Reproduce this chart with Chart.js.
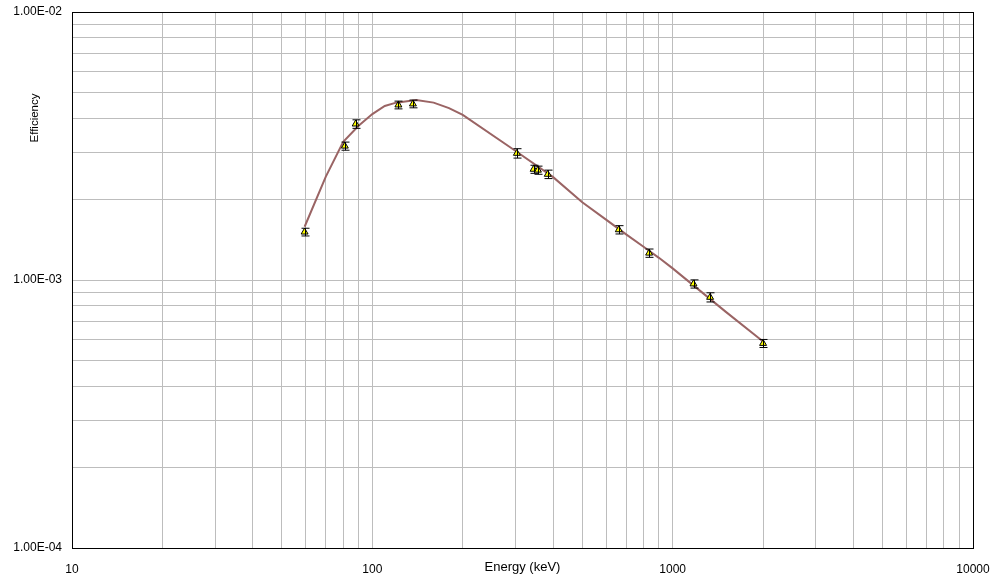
<!DOCTYPE html>
<html>
<head>
<meta charset="utf-8">
<script src="https://cdn.jsdelivr.net/npm/chart.js@4.4.1/dist/chart.umd.min.js"></script>
<style>
  html, body { margin: 0; padding: 0; background: #fff; }
  #wrap { width: 992px; height: 578px; }
</style>
</head>
<body>
<div id="wrap"><canvas id="effChart"></canvas></div>
<script>
// measured points (keV, efficiency, 1 sigma)
var energies = [59.5, 81.0, 88.0, 122.1, 136.5, 302.9, 344.3, 356.0, 383.8, 661.7, 834.8, 1173.2, 1332.5, 2000];
var effs = [1.51e-3, 3.16e-3, 3.82e-3, 4.50e-3, 4.54e-3, 2.97e-3, 2.59e-3, 2.57e-3, 2.48e-3, 1.54e-3, 1.26e-3, 9.67e-4, 8.62e-4, 5.80e-4];
var sigmas = [0.05e-3, 0.11e-3, 0.14e-3, 0.15e-3, 0.15e-3, 0.12e-3, 0.09e-3, 0.09e-3, 0.09e-3, 0.055e-3, 0.045e-3, 0.034e-3, 0.034e-3, 0.02e-3];

// fitted efficiency curve
var fitE = [59.5, 70, 80, 90, 100, 110, 120, 140, 160, 180, 200, 300, 400, 500, 600, 700, 800, 900, 1000, 1500, 2000];
var fitEff = [1.58e-3, 2.43e-3, 3.28e-3, 3.76e-3, 4.16e-3, 4.46e-3, 4.59e-3, 4.69e-3, 4.59e-3, 4.38e-3, 4.13e-3, 3.03e-3, 2.42e-3, 1.95e-3, 1.68e-3, 1.48e-3, 1.33e-3, 1.21e-3, 1.105e-3, 7.62e-4, 5.9e-4];

var xTickLabels = ['10', '100', '1000', '10000'];
var yTickLabels = ['1.00E-04', '1.00E-03', '1.00E-02'];

function logTicks(lo, hi) {
  var out = [];
  for (var d = lo; d < hi; d *= 10) {
    for (var m = 1; m < 10; m++) out.push({ value: m * d });
  }
  out.push({ value: hi });
  return out;
}

function pts(xs, ys) {
  return xs.map(function (x, i) { return { x: x, y: ys[i] }; });
}

var font = { family: 'Liberation Sans, Arial, sans-serif', size: 12 };

// error bars, axis titles and frame
var extras = {
  id: 'extras',
  afterDatasetsDraw: function (chart) {
    var ctx = chart.ctx, xs = chart.scales.x, ys = chart.scales.y;
    ctx.save();
    ctx.strokeStyle = '#000';
    ctx.lineWidth = 1;
    energies.forEach(function (e, i) {
      var px = Math.round(xs.getPixelForValue(e)) + 0.5;
      var top = ys.getPixelForValue(effs[i] + sigmas[i]);
      var bot = ys.getPixelForValue(effs[i] - sigmas[i]);
      ctx.beginPath();
      ctx.moveTo(px, top); ctx.lineTo(px, bot);
      ctx.moveTo(px - 4, top); ctx.lineTo(px + 4, top);
      ctx.moveTo(px - 4, bot); ctx.lineTo(px + 4, bot);
      ctx.stroke();
    });
    ctx.restore();
  },
  afterDraw: function (chart) {
    var ctx = chart.ctx, a = chart.chartArea;
    ctx.save();
    ctx.strokeStyle = '#000';
    ctx.lineWidth = 1;
    ctx.strokeRect(Math.round(a.left) + 0.5, Math.round(a.top) + 0.5, Math.round(a.right - a.left), Math.round(a.bottom - a.top));
    ctx.fillStyle = '#000';
    ctx.textAlign = 'center';
    ctx.textBaseline = 'middle';
    ctx.font = '13px "Liberation Sans", Arial, sans-serif';
    ctx.fillText('Energy (keV)', (a.left + a.right) / 2, 567);
    ctx.font = '11.5px "Liberation Sans", Arial, sans-serif';
    ctx.translate(35, 118);
    ctx.rotate(-Math.PI / 2);
    ctx.fillText('Efficiency', 0, 0);
    ctx.restore();
  }
};

new Chart(document.getElementById('effChart'), {
  type: 'scatter',
  data: {
    datasets: [
      {
        label: 'Measured',
        data: pts(energies, effs),
        pointStyle: 'triangle',
        pointRadius: 4,
        backgroundColor: '#ffff00',
        borderColor: '#000',
        borderWidth: 1,
        order: 0
      },
      {
        label: 'Fit',
        data: pts(fitE, fitEff),
        showLine: true,
        pointRadius: 0,
        borderColor: '#9a6464',
        borderWidth: 2,
        tension: 0,
        order: 1
      }
    ]
  },
  options: {
    responsive: true,
    maintainAspectRatio: false,
    animation: false,
    layout: { padding: { left: 0, right: 19, top: 12, bottom: 0 } },
    plugins: { legend: { display: false }, tooltip: { enabled: false } },
    scales: {
      x: {
        type: 'logarithmic',
        min: 10, max: 10000,
        afterBuildTicks: function (s) { s.ticks = logTicks(10, 10000); },
        afterFit: function (s) { s.height = 30; s.paddingLeft = 0; s.paddingRight = 0; },
        grid: { color: '#bdbdbd', drawTicks: false },
        border: { color: '#000' },
        ticks: {
          autoSkip: false, maxRotation: 0, padding: 14, color: '#000', font: font,
          callback: function (v) {
            var i = Math.round(Math.log10(v)) - 1;
            return Math.abs(Math.log10(v) - Math.round(Math.log10(v))) < 1e-6 ? xTickLabels[i] : '';
          }
        }
      },
      y: {
        type: 'logarithmic',
        min: 1e-4, max: 1e-2,
        afterBuildTicks: function (s) { s.ticks = logTicks(1e-4, 1e-2); },
        afterFit: function (s) { s.width = 72; s.paddingTop = 0; s.paddingBottom = 0; },
        grid: { color: '#bdbdbd', drawTicks: false },
        border: { color: '#000' },
        ticks: {
          autoSkip: false, padding: 10, color: '#000', font: font,
          callback: function (v) {
            var l = Math.log10(v);
            return Math.abs(l - Math.round(l)) < 1e-6 ? yTickLabels[Math.round(l) + 4] : '';
          }
        }
      }
    }
  },
  plugins: [extras]
});
</script>
</body>
</html>
